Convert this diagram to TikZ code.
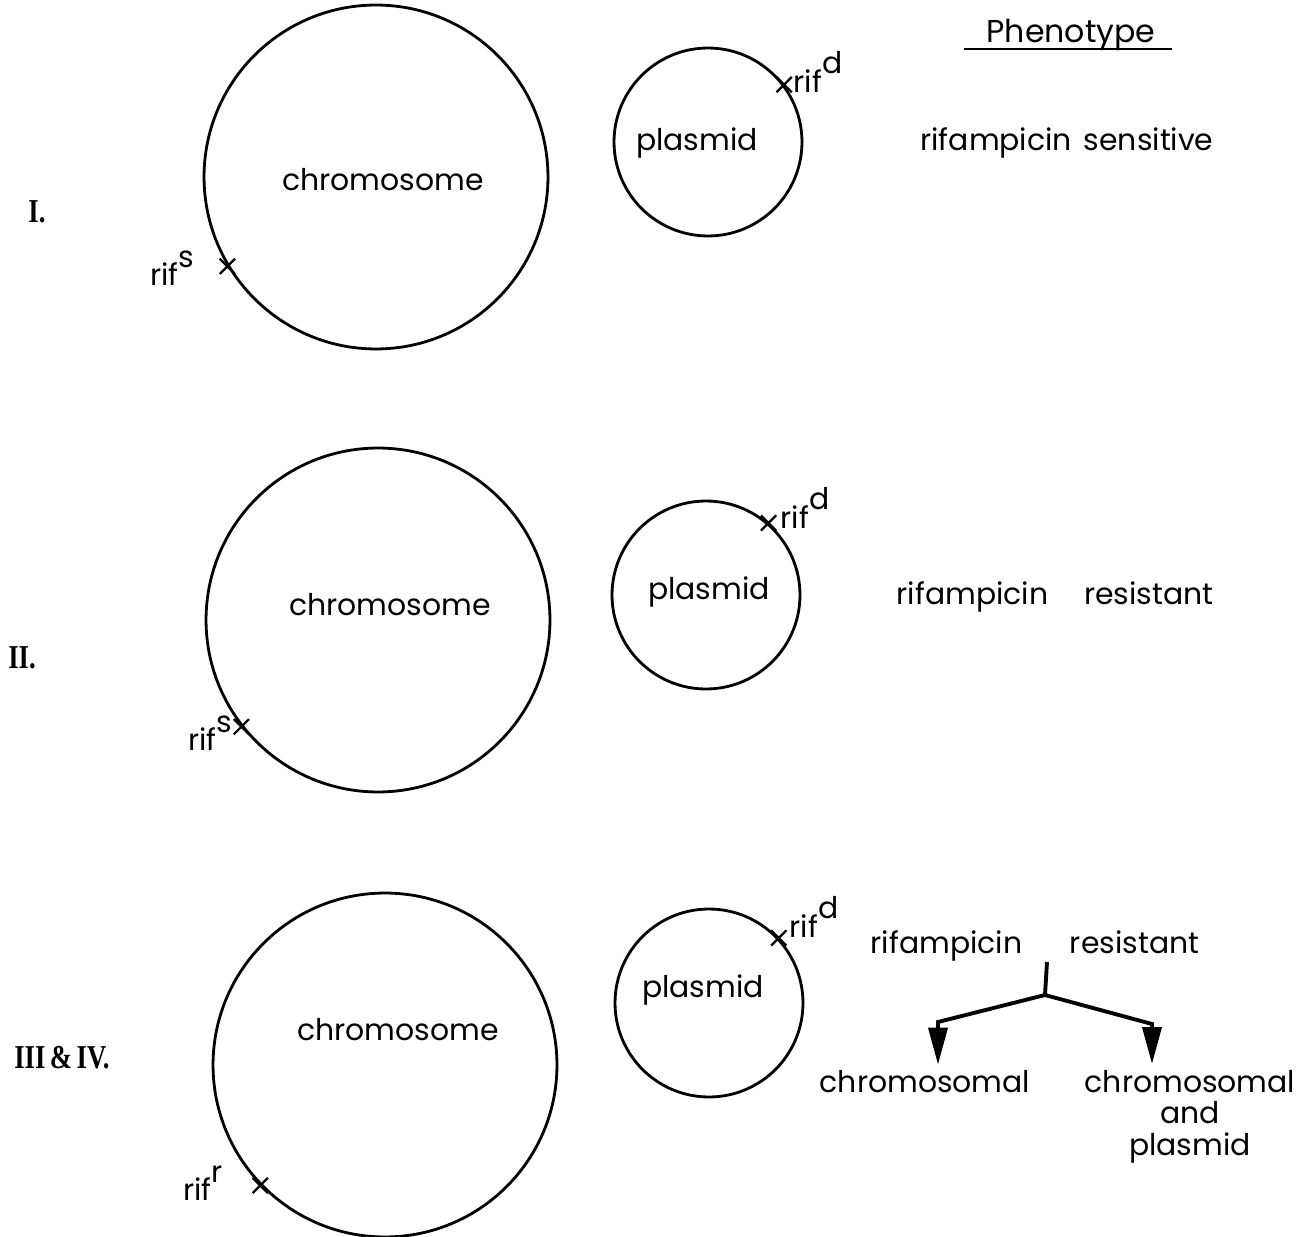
\documentclass[tikz,border=0pt]{standalone}
\usepackage{fontspec}
\setsansfont{Poppins}
\newfontfamily\romfont{Liberation Serif}
\usetikzlibrary{shapes.misc, arrows.meta, positioning, calc}

\newcommand{\rifsup}[1]{rif\raisebox{0.62em}{#1}}
\newcommand{\romlbl}[1]{\scalebox{0.8}[1]{#1}}

\begin{document}
\begin{tikzpicture}[
    x=0.02cm, y=-0.02cm,
    chrom/.style={draw, circle, minimum size=6.88cm, line width=1.6pt},
    plas/.style={draw, circle, minimum size=3.76cm, line width=1.6pt},
    lbl/.style={font=\sffamily\fontsize{17}{21}\selectfont},
    gene/.style={font=\sffamily\fontsize{17}{21}\selectfont, inner sep=0pt},
    rom/.style={font=\romfont\bfseries\fontsize{19}{23}\selectfont, inner sep=0pt},
    tickmark/.style={draw, cross out, minimum size=0.26cm, inner sep=0pt, line width=1.3pt},
    branch/.style={line width=2.2pt, -{Triangle[length=0.74cm, width=0.38cm]}},
]
\useasboundingbox (0,0) rectangle (1299,1237);

% === HEADER ===
\node[lbl, font=\sffamily\fontsize{18}{22}\selectfont] (pheno) at (1071,35) {Phenotype};
\draw[line width=1.3pt] ($(pheno.south west)+(-16,-8)$) -- ($(pheno.south east)+(10,-8)$);

% === CASE I ===
\node[rom] (case_1) at (37,212) {\romlbl{I.}};

% Chromosome
\node[chrom] (chr_1) at (376,177) {};
\node[lbl] at (383,180) {chromosome};
\node[tickmark] (x_chr_1) at (chr_1.211) {};
\node[gene] (rif_chr_1) at (172,268) {\rifsup{s}};

% Plasmid
\node[plas] (pla_1) at (708,142) {};
\node[lbl] at (697,143) {plasmid};
\node[tickmark] (x_pla_1) at (pla_1.37) {};
\node[gene] (rif_pla_1) at (818,72) {\rifsup{d}};

% Phenotype
\node[lbl] (phen_1) at (1067,143) {rifampicin\hspace{0.4em}sensitive};

% === CASE II ===
\node[rom] (case_2) at (22,658) {\romlbl{II.}};

% Chromosome
\node[chrom] (chr_2) at (378,620) {};
\node[lbl] at (390,605) {chromosome};
\node[tickmark] (x_chr_2) at (chr_2.218) {};
\node[gene] (rif_chr_2) at (210,733) {\rifsup{s}};

% Plasmid
\node[plas] (pla_2) at (706,595) {};
\node[lbl] at (709,592) {plasmid};
\node[tickmark] (x_pla_2) at (pla_2.49) {};
\node[gene] (rif_pla_2) at (805,508) {\rifsup{d}};

% Phenotype
\node[lbl] (phen_2) at (1055,597) {rifampicin\hspace{1.2em}resistant};

% === CASE III & IV ===
\node[rom, anchor=west] (case_3) at (14,1058) {\romlbl{III\,\&\,IV.}};

% Chromosome
\node[chrom] (chr_3) at (385,1065) {};
\node[lbl] at (398,1030) {chromosome};
\node[tickmark] (x_chr_3) at (chr_3.224) {};
\node[gene] (rif_chr_3) at (203,1183) {\rifsup{r}};

% Plasmid
\node[plas] (pla_3) at (709,1003) {};
\node[lbl] at (703,990) {plasmid};
\node[tickmark] (x_pla_3) at (pla_3.43) {};
\node[gene] (rif_pla_3) at (814,917) {\rifsup{d}};

% Phenotype
\node[lbl] (phen_3) at (1035,946) {rifampicin\hspace{1.6em}resistant};
\node[lbl] (sel_chr) at (925,1082) {chromosomal};
\node[lbl, align=center, anchor=north] (sel_both) at (1190,1064) {chromosomal\\[-3pt]and\\[-3pt]plasmid};

% Branching arrows
\coordinate (fork_top) at (1047,962);
\coordinate (fork) at (1045,995);
\coordinate (knee_l) at (938,1022);
\coordinate (knee_r) at (1152,1024);
\draw[line width=2.2pt] (fork_top) -- (fork);
\draw[branch] (fork) -- (knee_l) -- (knee_l |- sel_chr.north);
\draw[branch] (fork) -- (knee_r) -- (knee_r |- sel_both.north);

\end{tikzpicture}
\end{document}
